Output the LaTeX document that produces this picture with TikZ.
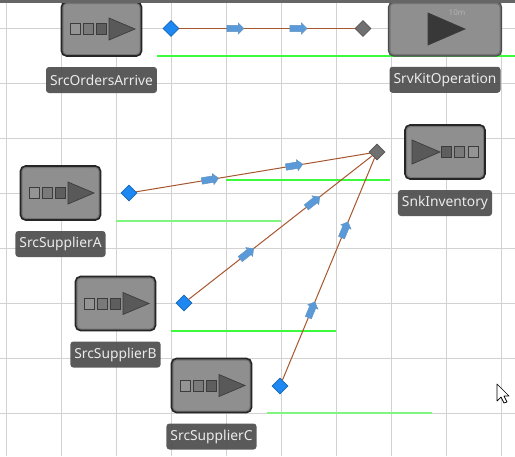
\documentclass[tikz,border=0pt]{standalone}
\usepackage{fontspec}
\setmainfont{Noto Sans}
\usetikzlibrary{arrows.meta,positioning,shapes.geometric,shapes.arrows}

\definecolor{boxgray}{HTML}{8F8F8F}
\definecolor{boxedge}{HTML}{747474}
\definecolor{gridgray}{HTML}{D2D2D2}
\definecolor{labelgray}{HTML}{4E4E4E}
\definecolor{iconedge}{HTML}{3C3C3C}
\definecolor{blockblue}{HTML}{1E88F2}
\definecolor{portgray}{HTML}{707070}
\definecolor{linkbrown}{HTML}{A8562E}
\definecolor{flowblue}{HTML}{5A9AD8}
\definecolor{bargreen}{HTML}{3CFB3C}
\definecolor{barpale}{HTML}{80F680}

\begin{document}
\begin{tikzpicture}[
    x=1pt, y=-1pt,
    font=\fontsize{13.8}{16}\selectfont,
    node distance=10pt,
    block/.style={draw=#1, line width=1.6pt, rounded corners=5pt, fill=boxgray, minimum width=80pt, minimum height=54pt, inner sep=0pt,
        path picture={\draw[boxedge, line width=4pt] (path picture bounding box.south west) rectangle (path picture bounding box.north east);}},
    block/.default={black!85},
    tag/.style={rounded corners=3pt, fill=labelgray, fill opacity=0.93, text opacity=1, text=white!92!black, minimum height=26pt, inner xsep=4pt, inner ysep=0pt},
    port/.style={diamond, draw=#1!75!black, fill=#1, line width=0.6pt, minimum size=16pt, inner sep=0pt},
    link/.style={draw=linkbrown, line width=1pt},
    flow/.style={single arrow, sloped, fill=flowblue, draw=flowblue!75!gray, line width=0.5pt, minimum height=17pt, minimum width=11pt, single arrow head extend=2pt, single arrow head indent=0pt, inner xsep=0pt, inner ysep=2.6pt},
    bar/.style={bargreen, line width=1.2pt},
    palebar/.style={barpale, line width=1.8pt},
    icon/.style={draw=iconedge, line width=0.7pt},
    srcicon/.pic={
        \draw[icon, fill=black!42] (-31.5,-5.5) rectangle (-21.5,5.5);
        \draw[icon, fill=black!52] (-18.5,-5.5) rectangle (-8.5,5.5);
        \draw[icon, fill=black!63] (-5.5,-5.5) rectangle (4.5,5.5);
        \draw[icon, fill=black!65] (7.5,-11) -- (33.5,0) -- (7.5,11) -- cycle;
    },
    snkicon/.pic={
        \draw[icon, fill=black!65] (-33,-12) -- (-5,0) -- (-33,12) -- cycle;
        \draw[icon, fill=black!63] (-4,-5.5) rectangle (6,5.5);
        \draw[icon, fill=black!52] (9,-5.5) rectangle (19,5.5);
        \draw[icon, fill=black!42] (23,-5.5) rectangle (33,5.5);
    }
]
    \useasboundingbox (0,0) rectangle (515,456);
    \fill[white] (0,0) rectangle (515,456);

    % grid
    \foreach \gx in {6.5,61.5,...,501.5}
        \draw[gridgray, line width=1pt] (\gx,0) -- (\gx,456);
    \foreach \gy in {28.5,83.5,...,413.5}
        \draw[gridgray, line width=1pt] (0,\gy) -- (515,\gy);

    % green bars
    \draw[bar] (157,56) -- (515,56);
    \draw[bar] (226,180) -- (390,180);
    \draw[palebar] (116,221) -- (281,221);
    \draw[bar] (171,331) -- (336,331);
    \draw[palebar] (267,413) -- (432,413);

    % objects
    \node[block] (ordersbox) at (101.5,29) {};
    \node[tag, below=of ordersbox] (orderstag) {SrcOrdersArrive};
    \pic at (ordersbox) {srcicon};

    \node[block=black!70, line width=1.1pt, minimum width=113pt] (kitbox) at (445,29) {};
    \node[tag, below=of kitbox] (kittag) {SrvKitOperation};
    \draw[icon, fill=black!78] (428,13) -- (465,29) -- (428,45) -- cycle;
    \node[text=black!30, font=\fontsize{8}{9}\selectfont\bfseries] (kittime) at (457,13) {10m};

    \node[block] (inventorybox) at (445,152) {};
    \node[tag, below=of inventorybox] (inventorytag) {SnkInventory};
    \pic at (inventorybox) {snkicon};

    \node[block] (supplierAbox) at (60.5,193) {};
    \node[tag, below=of supplierAbox] (supplierAtag) {SrcSupplierA};
    \pic at (supplierAbox) {srcicon};

    \node[block] (supplierBbox) at (115.5,303.5) {};
    \node[tag, below=of supplierBbox] (supplierBtag) {SrcSupplierB};
    \pic at (supplierBbox) {srcicon};

    \node[block] (supplierCbox) at (211.5,385.5) {};
    \node[tag, below=of supplierCbox] (supplierCtag) {SrcSupplierC};
    \pic at (supplierCbox) {srcicon};

    % ports
    \node[port=blockblue] (ordersout) at (171,28.5) {};
    \node[port=portgray] (kitin) at (363,28.5) {};
    \node[port=portgray] (inventoryin) at (377,152) {};
    \node[port=blockblue] (supplierAout) at (129,193) {};
    \node[port=blockblue] (supplierBout) at (184,303) {};
    \node[port=blockblue] (supplierCout) at (280,386) {};

    % links
    \foreach \src/\dst/\nm in {ordersout/kitin/flowO, supplierAout/inventoryin/flowA, supplierBout/inventoryin/flowB, supplierCout/inventoryin/flowC}
        \path[link] (\src) -- node[flow, pos=0.31] (\nm one) {} node[flow, pos=0.67] (\nm two) {} (\dst);

    % cursor
    \draw[black, fill=white, line width=0.7pt, line join=round] (497,384) -- (497,401) -- (501,397) -- (504,403) -- (507,402) -- (504,396) -- (509,396) -- cycle;

    % title bar edge
    \fill[black!60] (0,0) rectangle (515,3.3);
\end{tikzpicture}
\end{document}
